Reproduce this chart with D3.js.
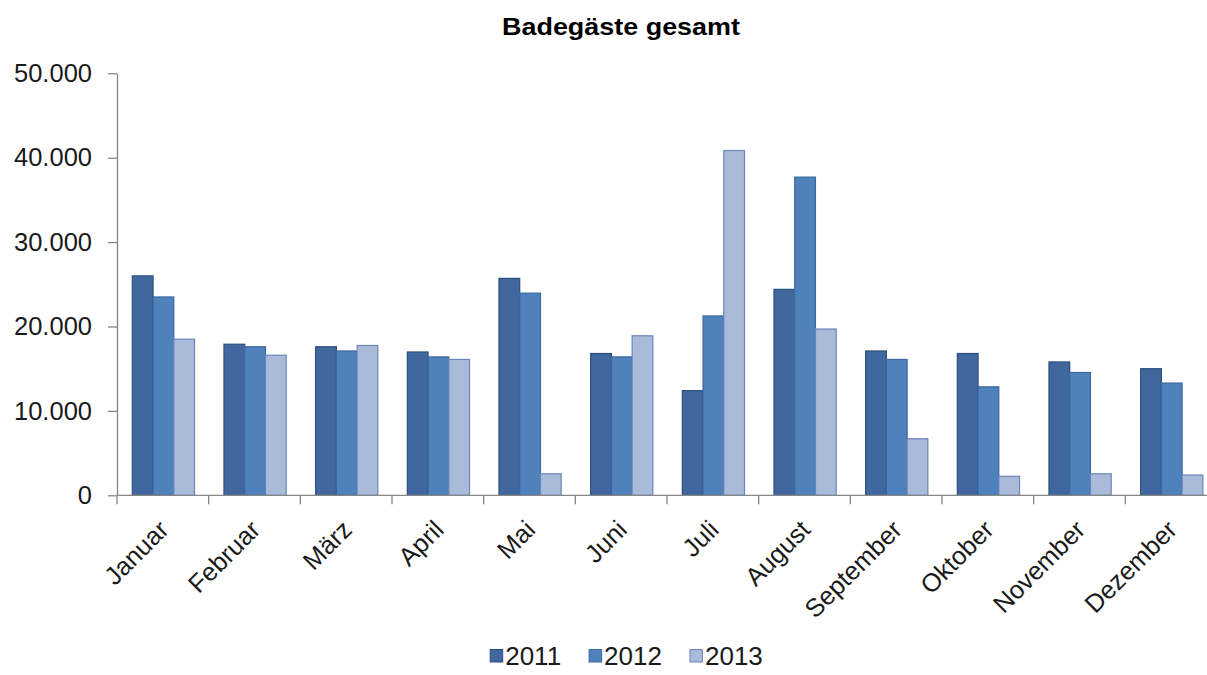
<!DOCTYPE html>
<html>
<head>
<meta charset="utf-8">
<script src="https://cdn.jsdelivr.net/npm/d3@7"></script>
<style>
  html, body { margin: 0; padding: 0; background: #fff; }
  svg { display: block; font-family: "Liberation Sans", Arial, sans-serif; }
</style>
</head>
<body>
<svg id="chart" width="1207" height="675"></svg>
<script>
const title = "Badegäste gesamt";
const months = ["Januar","Februar","März","April","Mai","Juni","Juli","August","September","Oktober","November","Dezember"];
const seriesNames = ["2011","2012","2013"];
const values2011 = [26000,17900,17600,16980,25700,16800,12400,24400,17100,16800,15800,15000];
const values2012 = [23500,17600,17100,16400,23950,16400,21250,37700,16100,12850,14550,13300];
const values2013 = [18500,16600,17750,16100,2550,18900,40850,19700,6700,2250,2550,2400];
const yTicks = [0,10000,20000,30000,40000,50000];
const colors = ["#40689E","#4F81BD","#AABAD9"];
const strokes = ["#2C4E7C","#3A689F","#6A86B8"];

const seriesValues = [values2011, values2012, values2013];
const data = months.map((m, i) => ({ month: m, vals: seriesNames.map((s, j) => ({ key: s, idx: j, value: seriesValues[j][i] })) }));

const svg = d3.select("#chart");
const plotLeft = 117, plotRight = 1217, plotTop = 73.3, plotBottom = 495.3;

const x0 = d3.scaleBand().domain(months).range([plotLeft, plotRight]).paddingInner(0).paddingOuter(0);
const x1 = d3.scaleBand().domain(seriesNames).range([0, x0.bandwidth()]).paddingInner(0).paddingOuter(0.71).align(0.52);
const y = d3.scaleLinear().domain([0, 50000]).range([plotBottom, plotTop]);

const de = d3.formatLocale({ decimal: ",", thousands: ".", grouping: [3], currency: ["", " €"] });
const fmt = de.format(",d");

// Title
svg.append("text")
  .attr("x", 621).attr("y", 35)
  .attr("text-anchor", "middle")
  .attr("font-weight", "bold")
  .attr("font-size", 24)
  .attr("textLength", 238).attr("lengthAdjust", "spacingAndGlyphs")
  .attr("fill", "#000")
  .text(title);

// Bars
const groups = svg.append("g").selectAll("g").data(data).join("g")
  .attr("transform", d => `translate(${x0(d.month)},0)`);
groups.selectAll("rect").data(d => d.vals).join("rect")
  .attr("x", d => x1(d.key))
  .attr("width", x1.bandwidth())
  .attr("y", d => y(d.value))
  .attr("height", d => y(0) - y(d.value))
  .attr("fill", d => colors[d.idx])
  .attr("stroke", d => strokes[d.idx])
  .attr("stroke-width", 1.2);

// Y axis
const yAxis = svg.append("g")
  .attr("transform", `translate(${plotLeft},0)`)
  .call(d3.axisLeft(y).tickValues(yTicks).tickFormat(fmt).tickSize(9).tickPadding(16).tickSizeOuter(0));
yAxis.select(".domain").attr("stroke", "#868686").attr("stroke-width", 1.3);
yAxis.selectAll(".tick line").attr("stroke", "#868686").attr("stroke-width", 1.3);
yAxis.selectAll(".tick text").attr("font-size", 25.5).attr("fill", "#1a1a1a")
  .attr("font-family", "Liberation Sans, Arial, sans-serif");

// X axis (ticks at category boundaries)
const xg = svg.append("g").attr("transform", `translate(0,${plotBottom})`);
xg.append("line").attr("x1", plotLeft).attr("x2", plotRight).attr("y1", 0).attr("y2", 0)
  .attr("stroke", "#868686").attr("stroke-width", 1.3);
xg.selectAll("line.tk").data(months).join("line").attr("class", "tk")
  .attr("x1", d => x0(d)).attr("x2", d => x0(d)).attr("y1", 0).attr("y2", 9)
  .attr("stroke", "#868686").attr("stroke-width", 1.3);
xg.selectAll("text").data(months).join("text")
  .attr("transform", d => `translate(${x0(d) + x0.bandwidth() / 2 + 1},${525 - plotBottom}) rotate(-45)`)
  .attr("text-anchor", "end")
  .attr("dy", "0.35em")
  .attr("font-size", 25.5)
  .attr("fill", "#1a1a1a")
  .text(d => d);

// Legend
const legend = svg.append("g");
const items = legend.selectAll("g").data(seriesNames).join("g");
items.append("rect").attr("width", 12.5).attr("height", 12.5).attr("y", -6.5)
  .attr("fill", (d, i) => colors[i]).attr("stroke", (d, i) => strokes[i]).attr("stroke-width", 1);
items.append("text").attr("x", 15).attr("dy", "0.36em").attr("font-size", 26).attr("fill", "#1a1a1a").text(d => d);
let cx = 0;
const gap = 28;
items.each(function () {
  const w = 15 + this.querySelector("text").getComputedTextLength();
  d3.select(this).attr("transform", `translate(${cx},0)`);
  cx += w + gap;
});
const total = cx - gap;
legend.attr("transform", `translate(${626.5 - total / 2},656)`);
</script>
</body>
</html>
